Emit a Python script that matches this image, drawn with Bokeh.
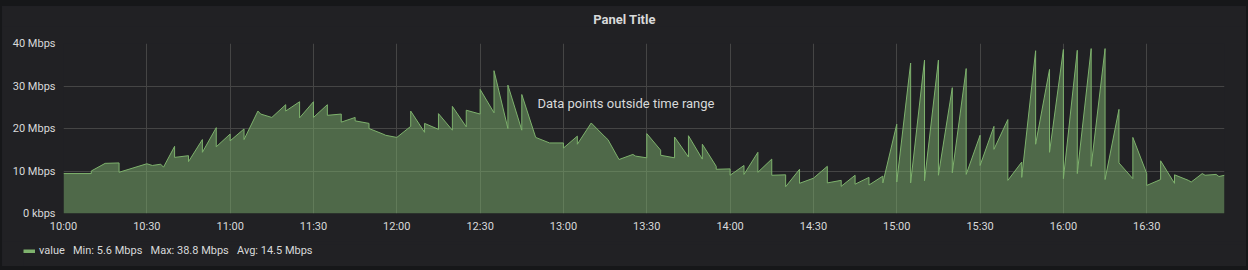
from datetime import datetime, timedelta
from bokeh.plotting import figure
from bokeh.models import Range1d, FixedTicker, Label, Legend, LegendItem
from bokeh.layouts import column, row
from bokeh.embed import file_html
from bokeh.resources import INLINE

# ---------------- data ----------------
start = datetime(2024, 1, 1, 10, 0)
minutes = [0, 10, 10, 15, 20, 20, 30, 32, 35, 36, 40, 40, 45, 45, 50, 50, 55, 55, 60, 60,
           65, 65, 70, 71, 75, 80, 80, 85, 85, 90, 90, 95, 95, 100, 100, 105, 105, 110, 110,
           115, 116, 120, 125, 125, 130, 130, 135, 135, 140, 140, 145, 145, 150, 150, 155, 155,
           160, 160, 165, 165, 170, 175, 180, 180, 185, 185, 190, 195, 196, 200, 205, 206,
           210, 210, 215, 215, 220, 220, 225, 225, 230, 230, 235, 235, 240, 240, 245, 245,
           250, 250, 255, 255, 260, 260, 265, 265, 270, 275, 275, 280, 280, 285, 285, 290, 290,
           295, 295, 300, 300, 305, 305, 310, 310, 315, 315, 320, 320, 325, 325, 330, 330,
           335, 335, 340, 340, 345, 345, 350, 350, 355, 355, 360, 360, 365, 365, 370, 370,
           375, 375, 380, 380, 385, 385, 390, 390, 395, 395, 400, 400, 405, 406, 410, 411,
           415, 416, 418]
mbps = [9.4, 9.4, 10.0, 11.8, 11.9, 9.7, 11.7, 11.3, 11.6, 10.9, 15.8, 13.2, 13.6, 12.2,
        17.4, 14.4, 20.2, 15.7, 18.7, 17.1, 19.9, 17.4, 24.1, 23.4, 22.6, 25.6, 24.1, 26.3,
        22.5, 26.3, 22.6, 25.6, 23.1, 23.4, 21.5, 22.6, 21.8, 21.2, 20.0, 18.7, 18.4, 17.9,
        20.5, 24.1, 19.1, 21.2, 19.8, 23.5, 19.6, 25.2, 20.4, 24.3, 23.4, 29.2, 23.7, 33.6,
        20.0, 30.2, 19.6, 28.0, 17.9, 16.6, 16.6, 15.4, 18.2, 16.3, 21.3, 18.0, 17.4, 12.7,
        13.9, 13.5, 13.1, 18.8, 14.9, 13.7, 13.1, 18.0, 13.3, 18.3, 12.8, 16.3, 11.1, 10.4,
        10.5, 9.0, 11.3, 9.2, 14.4, 9.7, 12.8, 9.0, 9.1, 6.3, 10.4, 7.1, 8.3, 11.1, 7.2,
        7.8, 6.4, 9.0, 6.9, 8.5, 6.7, 8.8, 7.2, 21.0, 7.4, 35.4, 7.2, 36.1, 7.7, 36.1, 9.0,
        29.6, 9.6, 34.1, 9.2, 18.4, 11.3, 20.5, 15.1, 22.1, 7.8, 12.1, 8.5, 38.3, 16.3,
        33.9, 14.4, 38.6, 8.2, 38.4, 9.4, 38.8, 11.1, 38.8, 8.0, 24.5, 11.9, 8.2, 17.9,
        9.4, 6.6, 8.0, 12.4, 7.1, 9.1, 7.8, 7.4, 9.4, 9.0, 9.2, 8.7, 9.0]

x_tick_minutes = [0, 30, 60, 90, 120, 150, 180, 210, 240, 270, 300, 330, 360, 390]
x_tick_labels = ["10:00", "10:30", "11:00", "11:30", "12:00", "12:30", "13:00", "13:30",
                 "14:00", "14:30", "15:00", "15:30", "16:00", "16:30"]
y_ticks = [0, 10, 20, 30, 40]
y_tick_labels = ["0 kbps", "10 Mbps", "20 Mbps", "30 Mbps", "40 Mbps"]

title_text = "Panel Title"
notice_text = "Data points outside time range"
legend_text = "value   Min: 5.6 Mbps   Max: 38.8 Mbps   Avg: 14.5 Mbps"

# ---------------- style ----------------
GREEN = "#7eb26d"
PANEL = "#212124"
OUTER = "#161719"
TEXT = "#d8d9da"
GRID = "#454545"
FONT = "Roboto"

times = [start + timedelta(minutes=m) for m in minutes]
epoch = datetime(1970, 1, 1)
tick_ms = [(start + timedelta(minutes=m) - epoch).total_seconds() * 1000.0 for m in x_tick_minutes]


def strip(height, border_left=0, border_top=0):
    f = figure(width=1244, height=height, x_range=Range1d(0, 1), y_range=Range1d(0, 1),
               output_backend="svg", toolbar_location=None,
               x_axis_location=None, y_axis_location=None,
               min_border_left=border_left, min_border_right=0,
               min_border_top=border_top, min_border_bottom=0)
    f.background_fill_color = PANEL
    f.border_fill_color = PANEL
    f.outline_line_color = None
    f.grid.visible = False
    f.title.standoff = 0
    f.title.text_font_size = "1px"
    return f


# ---------------- title strip ----------------
top = strip(20)
top.add_layout(Label(x=0.5, y=0.35, text=title_text, text_align="center",
                     text_baseline="middle", text_color=TEXT, text_font=FONT,
                     text_font_size="13px", text_font_style="bold"))

# ---------------- main chart ----------------
p = figure(width=1244, height=215, x_axis_type="datetime",
           x_range=Range1d(times[0], times[-1]), y_range=Range1d(0, 40),
           output_backend="svg", toolbar_location=None,
           min_border_left=61, min_border_right=22, min_border_top=17, min_border_bottom=28)
p.background_fill_color = PANEL
p.border_fill_color = PANEL
p.outline_line_color = None
p.title.standoff = 0
p.title.text_font_size = "1px"

p.varea(x=times, y1=0, y2=mbps, fill_color=GREEN, fill_alpha=0.5)
p.line(x=times, y=mbps, line_color=GREEN, line_width=1)

xt = FixedTicker(ticks=tick_ms)
p.xaxis.ticker = xt
p.xaxis.major_label_overrides = {t: l for t, l in zip(tick_ms, x_tick_labels)}
p.xgrid.ticker = xt
p.yaxis.ticker = FixedTicker(ticks=y_ticks)
p.yaxis.major_label_overrides = {t: l for t, l in zip(y_ticks, y_tick_labels)}
p.ygrid.ticker = FixedTicker(ticks=y_ticks)

for ax in (p.xaxis[0], p.yaxis[0]):
    ax.axis_line_color = None
    ax.major_tick_line_color = None
    ax.minor_tick_line_color = None
    ax.major_tick_out = 0
    ax.major_tick_in = 0
    ax.minor_tick_out = 0
    ax.major_label_text_color = TEXT
    ax.major_label_text_font = FONT
    ax.major_label_text_font_size = "11px"
p.xaxis.major_label_standoff = 6
p.yaxis.major_label_standoff = 8

for g in (p.xgrid[0], p.ygrid[0]):
    g.grid_line_color = GRID
    g.grid_line_width = 1

p.add_layout(Label(x=start + timedelta(minutes=202.5), y=26.0, text=notice_text,
                   text_align="center", text_baseline="middle", text_color=TEXT,
                   text_font=FONT, text_font_size="13px"))

# ---------------- legend strip ----------------
leg = strip(25, border_left=21, border_top=3)
dummy = leg.line(x=[-5, -4], y=[-5, -5], line_color=GREEN, line_width=4)
legend = Legend(items=[LegendItem(label=legend_text, renderers=[dummy])],
                location="top_left", orientation="horizontal",
                glyph_width=12, glyph_height=4, label_standoff=4, label_height=13,
                padding=0, margin=0, spacing=0,
                border_line_color=None, background_fill_alpha=0,
                label_text_color=TEXT, label_text_font=FONT, label_text_font_size="11px")
leg.add_layout(legend, "center")

lay = column(row(top), p, row(leg), spacing=0,
             styles={"background-color": PANEL, "border-style": "solid",
                     "border-color": OUTER, "border-width": "6px 2px 4px 2px"})

open("out.html", "w").write(file_html(lay, INLINE))
